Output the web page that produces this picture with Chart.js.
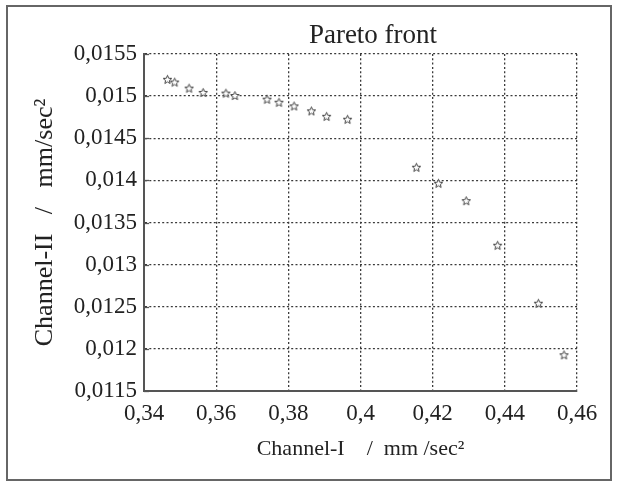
<!DOCTYPE html>
<html><head><meta charset="utf-8">
<script src="https://cdn.jsdelivr.net/npm/chart.js@4.4.1/dist/chart.umd.min.js"></script>
<style>html,body{margin:0;padding:0;background:#fff;}#wrap{width:619px;height:484px;position:relative;}</style>
</head><body><div id="wrap"><canvas id="c" width="619" height="484"></canvas></div>
<script>
const chartTitle = 'Pareto front';
const xAxisTitle = 'Channel-I    /  mm /sec\u00B2';
const yAxisTitle = 'Channel-II   /   mm/sec\u00B2';
const channelI  = [0.3465, 0.3485, 0.3525, 0.3564, 0.3627, 0.3652, 0.3741, 0.3774, 0.3816, 0.3864, 0.3906, 0.3964, 0.4155, 0.4216, 0.4293, 0.4380, 0.4493, 0.4564];
const channelII = [0.01520, 0.015167, 0.015095, 0.015044, 0.015036, 0.015008, 0.014964, 0.014928, 0.014884, 0.014825, 0.014761, 0.014726, 0.014156, 0.013966, 0.013759, 0.01323, 0.012542, 0.01193];
const xTickValues = [0.34, 0.36, 0.38, 0.40, 0.42, 0.44, 0.46];
const yTickValues = [0.0115, 0.012, 0.0125, 0.013, 0.0135, 0.014, 0.0145, 0.015, 0.0155];

const fmt = v => String(Number(v.toFixed(5))).replace('.', ',');
const serif = "'Liberation Serif', 'DejaVu Serif', serif";

// five-pointed star marker
function makeStar(size) {
  const c = document.createElement('canvas');
  c.width = size; c.height = size;
  const g = c.getContext('2d');
  const cx = size / 2, cy = size / 2 + 0.5, R = size / 2 - 1, r = R * 0.45;
  g.beginPath();
  for (let i = 0; i < 10; i++) {
    const rad = i % 2 === 0 ? R : r;
    const a = -Math.PI / 2 + i * Math.PI / 5;
    const px = cx + rad * Math.cos(a), py = cy + rad * Math.sin(a);
    if (i === 0) g.moveTo(px, py); else g.lineTo(px, py);
  }
  g.closePath();
  g.fillStyle = '#fff';
  g.fill();
  g.strokeStyle = '#444';
  g.lineWidth = 1;
  g.stroke();
  return c;
}
const star = makeStar(11);

const points = channelI.map((x, i) => ({x: x, y: channelII[i]}));

const framePlugin = {
  id: 'frame',
  beforeDraw(chart) {
    const ctx = chart.ctx;
    ctx.save();
    ctx.fillStyle = '#fff';
    ctx.fillRect(0, 0, chart.width, chart.height);
    ctx.strokeStyle = '#666';
    ctx.lineWidth = 2;
    ctx.strokeRect(7, 6, 604, 474);
    ctx.restore();
  },
  afterDatasetsDraw(chart) {
    // short inward tick marks on the left axis
    const ctx = chart.ctx, ys = chart.scales.y, left = chart.chartArea.left;
    ctx.save();
    ctx.strokeStyle = '#555';
    ctx.lineWidth = 1.3;
    ys.ticks.forEach(t => {
      const py = Math.round(ys.getPixelForValue(t.value)) + 0.5;
      ctx.beginPath();
      ctx.moveTo(left, py);
      ctx.lineTo(left + 5, py);
      ctx.stroke();
    });
    ctx.restore();
  },
  afterDraw(chart) {
    const ctx = chart.ctx;
    ctx.save();
    ctx.fillStyle = '#222';
    ctx.font = "27px " + serif;
    ctx.textAlign = 'center';
    ctx.textBaseline = 'alphabetic';
    ctx.fillText(chartTitle, 373, 43);
    ctx.restore();
  }
};

new Chart(document.getElementById('c'), {
  type: 'scatter',
  data: {
    datasets: [{
      data: points,
      pointStyle: star,
      pointRadius: 5,
      pointHoverRadius: 5,
      showLine: false
    }]
  },
  options: {
    responsive: false,
    devicePixelRatio: 1,
    animation: false,
    events: [],
    layout: {padding: {top: 54, right: 42, bottom: 0, left: 0}},
    plugins: {legend: {display: false}, tooltip: {enabled: false}, title: {display: false}},
    scales: {
      x: {
        type: 'linear',
        min: 0.34, max: 0.46,
        afterBuildTicks: s => { s.ticks = xTickValues.map(v => ({value: v})); },
        afterFit: s => { s.height = 93; },
        grid: {color: '#3a3a3a', lineWidth: 1.3, drawTicks: false},
        border: {display: true, color: '#555', width: 2, dash: [2, 2.3]},
        ticks: {color: '#222', font: {family: serif, size: 23}, padding: 9, maxRotation: 0, autoSkip: false, callback: v => fmt(v)},
        title: {display: true, text: xAxisTitle, color: '#222', font: {family: serif, size: 22}, padding: {top: 0, bottom: 22}}
      },
      y: {
        type: 'linear',
        min: 0.0115, max: 0.0155,
        afterBuildTicks: s => { s.ticks = yTickValues.map(v => ({value: v})); },
        afterFit: s => { s.width = 144; },
        grid: {color: '#3a3a3a', lineWidth: 1.3, drawTicks: false},
        border: {display: true, color: '#555', width: 2, dash: [2, 2.3]},
        ticks: {color: '#222', font: {family: serif, size: 23}, padding: 7, autoSkip: false, callback: v => fmt(v)},
        title: {display: true, text: yAxisTitle, color: '#222', font: {family: serif, size: 26}, padding: {top: 30, bottom: 0}}
      }
    }
  },
  plugins: [framePlugin]
});
</script>
</body></html>
